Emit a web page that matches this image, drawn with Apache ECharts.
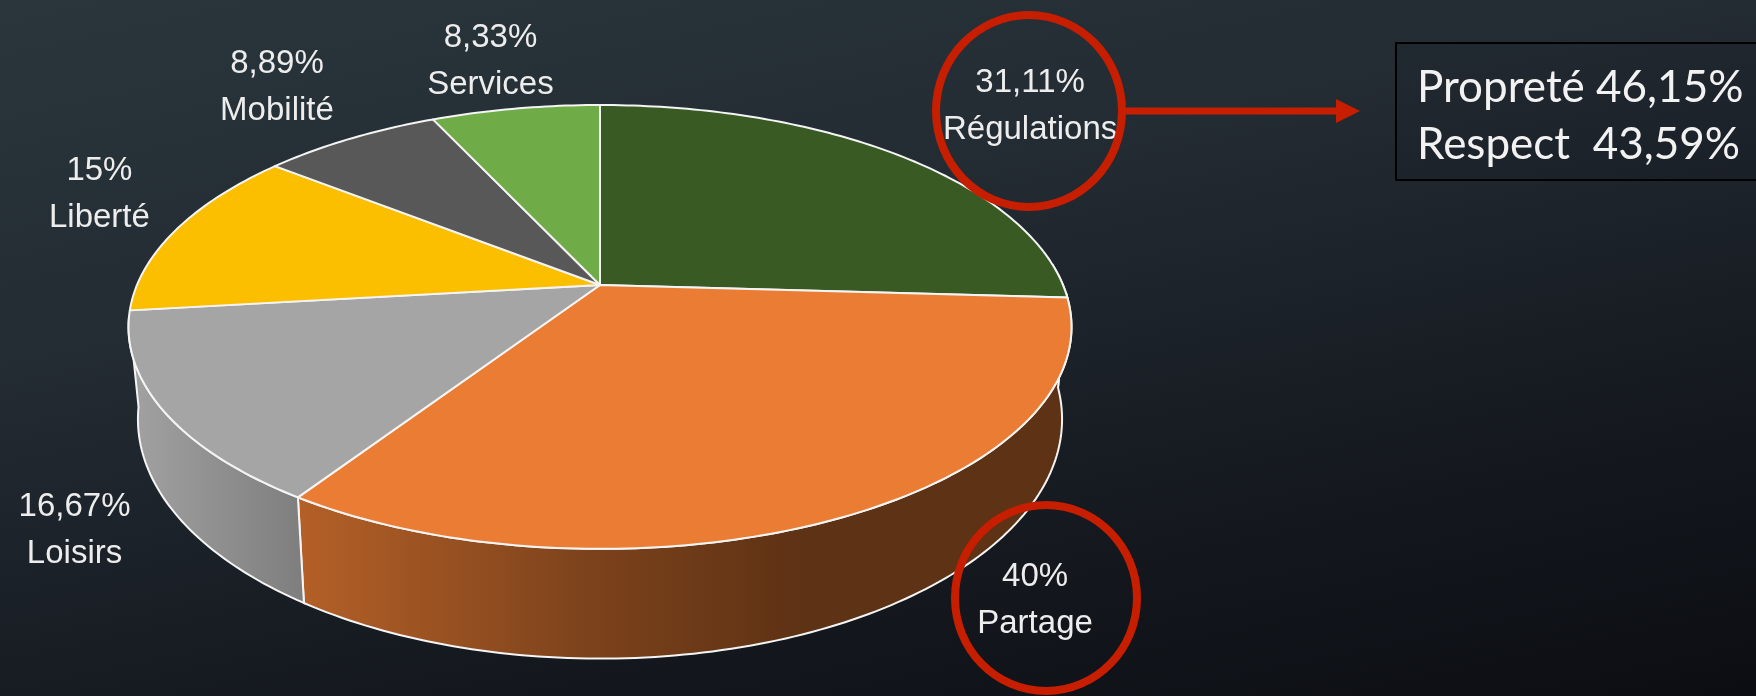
<!DOCTYPE html>
<html>
<head>
<meta charset="utf-8">
<script src="https://cdn.jsdelivr.net/npm/echarts@6/dist/echarts.min.js"></script>
<style>
  html, body { margin: 0; padding: 0; background: #1c242a; }
  #chart { width: 1756px; height: 696px; }
</style>
</head>
<body>
<div id="chart"></div>
<script>
// slices, clockwise from 12 o'clock
const names = ['Régulations', 'Partage', 'Loisirs', 'Liberté', 'Mobilité', 'Services'];
const values = [31.11, 40, 16.67, 15, 8.89, 8.33];
const topColors = ['#3a5a24', '#ea7d33', '#a5a5a5', '#fbbf00', '#585858', '#6fab46'];
// detail box next to Régulations
const noteNames = ['Propreté', 'Respect'];
const noteValues = [46.15, 43.59];
// label nudge from the rim point at the middle of each slice
const labelShift = [[132, -49], [185, 85], [-88, 121], [-77, -35], [-73, -51], [-25, -47]];

const total = values.reduce((a, b) => a + b, 0);
const starts = [];
values.reduce((acc, v, i) => { starts[i] = acc; return acc + v; }, 0);

// fake perspective of the disc
const cx = 600, cy = 285, rx = 463, ry = 214, k = 0.189, depth = 89, shrink = 0.98;

function rim(t) {
  const a = t * Math.PI / 180, u = Math.sin(a), v = Math.cos(a), w = 1 + k * v;
  return [cx + rx * u / w, cy - ry * v / w];
}
function rimLow(t) {
  const a = t * Math.PI / 180, u = Math.sin(a), v = Math.cos(a), w = 1 + k * v;
  return [cx + shrink * rx * u / w, cy - ry * v / w + depth / w];
}
function arc(fn, a0, a1) {
  const pts = [];
  const n = Math.max(2, Math.ceil(Math.abs(a1 - a0)));
  for (let j = 0; j <= n; j++) pts.push(fn(a0 + (a1 - a0) * j / n));
  return pts;
}
function shade(hex, f) {
  const n = parseInt(hex.slice(1), 16);
  const r = Math.round(((n >> 16) & 255) * f), g = Math.round(((n >> 8) & 255) * f), b = Math.round((n & 255) * f);
  return 'rgb(' + r + ',' + g + ',' + b + ')';
}
function fmt(v) { return String(v).replace('.', ','); }

function renderItem(params, api) {
  const i = params.dataIndex;
  const a0 = starts[i] / total * 360;
  const a1 = a0 + api.value(0) / total * 360;
  const kids = [];

  // outer wall, only the part that faces us
  const w0 = Math.max(a0, 85), w1 = Math.min(a1, 262);
  if (w1 > w0) {
    const pts = arc(rim, w0, w1).concat(arc(rimLow, w1, w0));
    const base = topColors[i];
    kids.push({
      type: 'polygon',
      z2: 1,
      shape: { points: pts },
      style: {
        fill: new echarts.graphic.LinearGradient(128, 0, 1075, 0, [
          { offset: 0, color: shade(base, 0.98) },
          { offset: 0.18, color: shade(base, 0.77) },
          { offset: 0.5, color: shade(base, 0.52) },
          { offset: 0.71, color: shade(base, 0.4) },
          { offset: 1, color: shade(base, 0.4) }
        ], true),
        stroke: '#f4f4f4',
        lineWidth: 2
      }
    });
  }

  // top face
  kids.push({
    type: 'polygon',
    z2: 5,
    shape: { points: [[cx, cy]].concat(arc(rim, a0, a1)) },
    style: { fill: topColors[i], stroke: '#f4f4f4', lineWidth: 2, lineJoin: 'round' }
  });

  // label
  const p = rim((a0 + a1) / 2);
  kids.push({
    type: 'text',
    z2: 10,
    style: {
      text: fmt(api.value(0)) + '%\n' + names[i],
      x: p[0] + labelShift[i][0],
      y: p[1] + labelShift[i][1],
      align: 'center',
      verticalAlign: 'middle',
      fill: '#ededed',
      fontSize: 33,
      lineHeight: 47,
      fontFamily: '"Liberation Sans", Arial, sans-serif'
    }
  });
  return { type: 'group', children: kids };
}

const chart = echarts.init(document.getElementById('chart'), null, { renderer: 'canvas' });

const red = '#c81e00';
const option = {
  animation: false,
  graphic: [
    {
      type: 'rect', z: -10, silent: true,
      shape: { x: 0, y: 0, width: 1756, height: 696 },
      style: {
        fill: new echarts.graphic.LinearGradient(0, 0, 218, 1024, [
          { offset: 0, color: '#2a363c' },
          { offset: 0.35, color: '#232b33' },
          { offset: 0.65, color: '#171c22' },
          { offset: 1, color: '#0b0d12' }
        ], true)
      }
    },
    {
      type: 'ellipse', z: 20,
      shape: { cx: 1029, cy: 111, rx: 93, ry: 96 },
      style: { fill: 'none', stroke: red, lineWidth: 8 }
    },
    {
      type: 'ellipse', z: 20,
      shape: { cx: 1046, cy: 598, rx: 91, ry: 93 },
      style: { fill: 'none', stroke: red, lineWidth: 8 }
    },
    {
      type: 'polygon', z: 20,
      shape: { points: [[1126, 107.5], [1336, 107.5], [1336, 99], [1360, 111], [1336, 123], [1336, 114.5], [1126, 114.5]] },
      style: { fill: red }
    },
    {
      type: 'rect', z: 20,
      shape: { x: 1396, y: 43, width: 420, height: 137 },
      style: { fill: 'rgba(0,0,0,0.06)', stroke: '#000', lineWidth: 2 }
    },
    {
      type: 'text', z: 21,
      style: {
        text: noteNames.map((n, i) => n.padEnd(9, ' ') + fmt(noteValues[i]) + '%').join('\n'),
        x: 1417, y: 116.5,
        align: 'left', verticalAlign: 'middle',
        fill: '#f2f2f2',
        fontSize: 44,
        lineHeight: 57,
        fontFamily: 'Lato, "DejaVu Sans", sans-serif'
      }
    }
  ],
  series: [{
    type: 'custom',
    coordinateSystem: 'none',
    silent: true,
    renderItem: renderItem,
    data: values
  }]
};
chart.setOption(option);
</script>
</body>
</html>
